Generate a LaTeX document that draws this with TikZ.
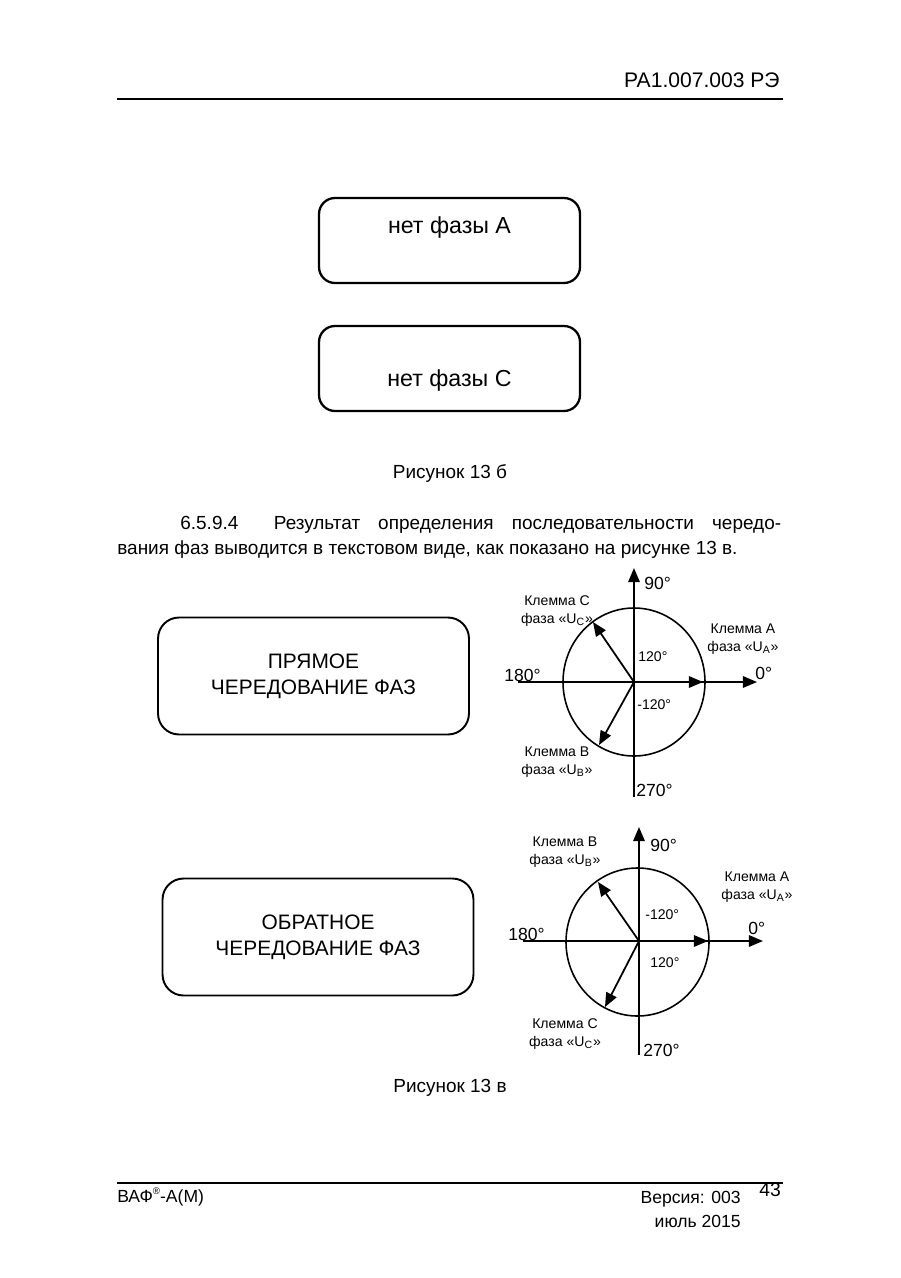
\documentclass[tikz,border=0pt]{standalone}
\usepackage{fontspec}
\setmainfont{Liberation Sans}
\usetikzlibrary{arrows.meta,positioning}

\begin{document}
\begin{tikzpicture}[x=0.02cm, y=-0.02cm,
  box/.style={draw, line width=1.3pt, rounded corners=0.32cm, minimum width=5.22cm, minimum height=1.7cm},
  boxtxt/.style={font=\fontsize{13.2}{15}\selectfont, inner sep=0pt},
  wide/.style={draw, line width=1.1pt, rounded corners=0.42cm, minimum width=6.22cm, minimum height=2.34cm, align=center, font=\fontsize{11.9}{14.8}\selectfont},
  arr/.style={-{Triangle[length=8pt,width=6.5pt]}, line width=1pt},
  deg/.style={font=\fontsize{10}{12}\selectfont, inner sep=0pt},
  small/.style={font=\fontsize{8}{10.2}\selectfont, align=center, inner sep=0pt},
  txt/.style={font=\fontsize{10.8}{13}\selectfont, inner sep=0pt}]
\useasboundingbox (0,0) rectangle (900,1278);

% header
\node[anchor=east, font=\fontsize{12}{14}\selectfont, inner sep=0pt] (doc) at (780,80) {РА1.007.003 РЭ};
\draw[line width=1.3pt] (117,99) -- (783,99);

% figure 13 b
\node[box] (noA) at (449.5,240.5) {};
\node[boxtxt, below=0.38cm of noA.north] (noAtxt) {нет фазы А};
\node[box] (noC) at (449.5,368.5) {};
\node[boxtxt, above=0.4cm of noC.south] (noCtxt) {нет фазы С};
\node[txt] (fig13b) at (450,474) {Рисунок 13 б};

% paragraph
\node[txt, anchor=base west] (par1) at (180,529) {\makebox[12.02cm][s]{6.5.9.4\hspace{0.35cm} Результат определения последовательности чередо-}};
\node[txt, anchor=base west] (par2) at (117,554) {вания фаз выводится в текстовом виде, как показано на рисунке 13 в.};

% figure 13 v
\node[wide] (direct) at (313.5,676) {ПРЯМОЕ\\ЧЕРЕДОВАНИЕ ФАЗ};
\node[wide] (reverse) at (318,937) {ОБРАТНОЕ\\ЧЕРЕДОВАНИЕ ФАЗ};

% direct sequence
\begin{scope}[shift={(634,682)}]
  \coordinate (O1) at (0,0);
  \coordinate (A1) at (69,0);
  \coordinate (B1) at (-35,63);
  \coordinate (C1) at (-41,-60);
  \draw[arr] (0,115) -- (0,-114);
  \draw[arr] (-116,0) -- (123,0);
  \draw[line width=0.9pt] (O1) ellipse [x radius=71, y radius=74];
  \draw[arr] (O1) -- (A1);
  \draw[arr] (O1) -- (B1);
  \draw[arr] (O1) -- (C1);
  \node[deg, anchor=west] (n90a) at (10,-99) {90°};
  \node[deg, anchor=south west] (n180a) at (-130,0) {180°};
  \node[deg, anchor=south west] (n0a) at (121,-2) {0°};
  \node[deg, anchor=west] (n270a) at (2,108) {270°};
  \node[small, anchor=west] (p120a) at (4,-25) {120°};
  \node[small, anchor=west] (m120a) at (3,23) {-120°};
  \node[small] (klCa) at (-77,-71) {Клемма С\\фаза «U\textsubscript{C}»};
  \node[small] (klAa) at (109,-43) {Клемма А\\фаза «U\textsubscript{A}»};
  \node[small] (klBa) at (-77,80) {Клемма В\\фаза «U\textsubscript{B}»};
\end{scope}

% reverse sequence
\begin{scope}[shift={(639,941)}]
  \coordinate (O2) at (0,0);
  \coordinate (A2) at (69,0);
  \coordinate (B2) at (-41,-59);
  \coordinate (C2) at (-34,66);
  \draw[arr] (0,114) -- (0,-114);
  \draw[arr] (-116,0) -- (124,0);
  \draw[line width=0.9pt] (-1.5,1) ellipse [x radius=71.5, y radius=74];
  \draw[arr] (O2) -- (A2);
  \draw[arr] (O2) -- (B2);
  \draw[arr] (O2) -- (C2);
  \node[deg, anchor=west] (n90b) at (11,-96) {90°};
  \node[deg, anchor=south west] (n180b) at (-131,0) {180°};
  \node[deg, anchor=south west] (n0b) at (109,-6) {0°};
  \node[deg, anchor=west] (n270b) at (4,109) {270°};
  \node[small, anchor=west] (m120b) at (6,-26) {-120°};
  \node[small, anchor=west] (p120b) at (11,22) {120°};
  \node[small] (klBb) at (-74,-89) {Клемма В\\фаза «U\textsubscript{B}»};
  \node[small] (klAb) at (118,-54) {Клемма А\\фаза «U\textsubscript{A}»};
  \node[small] (klCb) at (-74,93) {Клемма С\\фаза «U\textsubscript{C}»};
\end{scope}
\node[txt] (fig13v) at (450,1088) {Рисунок 13 в};

% footer
\draw[line width=1.3pt] (117,1183) -- (783,1183);
\node[anchor=west, font=\fontsize{10}{12}\selectfont, inner sep=0pt] (brand) at (117,1197) {ВАФ\raisebox{0.9ex}{\fontsize{5.5}{6}\selectfont ®}-А(М)};
\node[anchor=east, font=\fontsize{10}{12}\selectfont, inner sep=0pt] (ver) at (741,1199) {Версия: 003};
\node[anchor=east, font=\fontsize{10}{12}\selectfont, inner sep=0pt] (date) at (741,1221) {июль 2015};
\node[font=\fontsize{11}{13}\selectfont, inner sep=0pt] (page) at (770,1190) {43};
\end{tikzpicture}
\end{document}
